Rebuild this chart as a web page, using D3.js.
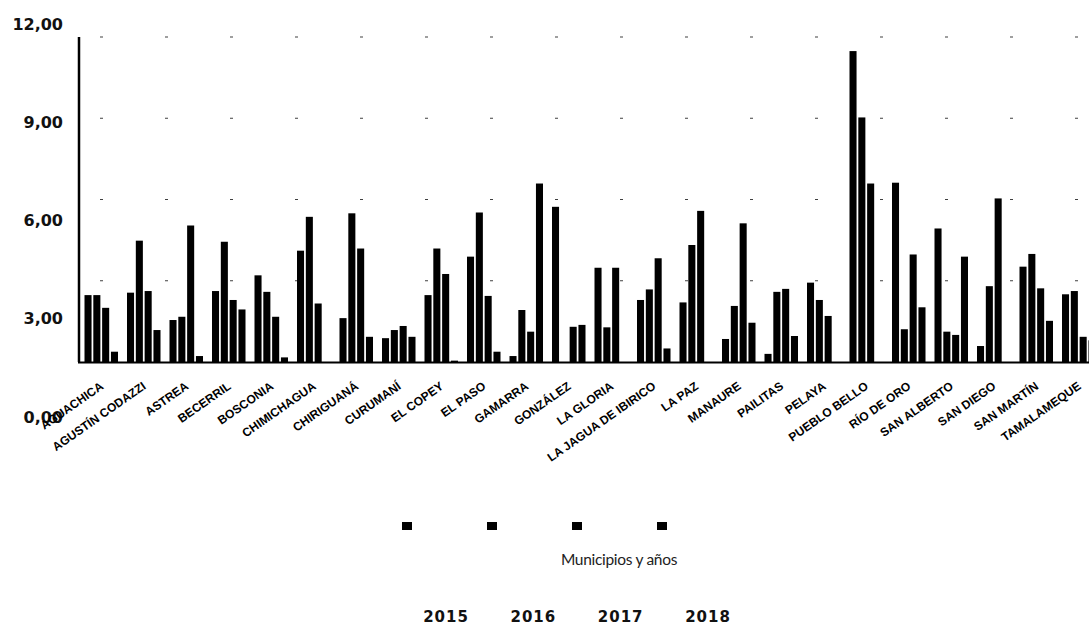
<!DOCTYPE html>
<html>
<head>
<meta charset="utf-8">
<script src="https://cdn.jsdelivr.net/npm/d3@7"></script>
<style>
  html, body { margin: 0; padding: 0; background: #fff; }
  svg { display: block; }
</style>
</head>
<body>
<svg id="chart" width="1089" height="626"></svg>
<script>
const categories = ["AGUACHICA","AGUSTÍN CODAZZI","ASTREA","BECERRIL","BOSCONIA","CHIMICHAGUA","CHIRIGUANÁ","CURUMANÍ","EL COPEY","EL PASO","GAMARRA","GONZÁLEZ","LA GLORIA","LA JAGUA DE IBIRICO","LA PAZ","MANAURE","PAILITAS","PELAYA","PUEBLO BELLO","RÍO DE ORO","SAN ALBERTO","SAN DIEGO","SAN MARTÍN","TAMALAMEQUE"];
const years = ["2015","2016","2017","2018"];
const v2015 = [2.47,2.56,1.55,2.62,3.20,4.11,1.62,0.88,2.47,3.89,0.22,5.73,3.48,2.29,2.20,0.85,0.30,2.93,11.48,6.62,4.93,0.59,3.52,2.50];
const v2016 = [2.47,4.48,1.67,4.44,2.59,5.36,5.49,1.18,4.19,5.52,1.92,0.00,1.28,2.68,4.32,2.07,2.59,2.29,9.03,1.21,1.12,2.80,3.99,2.62];
const v2017 = [2.00,2.62,5.04,2.29,1.67,2.16,4.19,1.33,3.25,2.44,1.12,1.30,3.48,3.83,5.58,5.12,2.70,1.70,6.59,3.97,1.00,6.04,2.72,0.93];
const v2018 = [0.38,1.18,0.22,1.94,0.17,0.00,0.93,0.93,0.05,0.38,6.59,1.37,0.00,0.50,0.00,1.45,0.96,0.00,0.00,2.02,3.89,0.00,1.52,0.80];
const yTicks = [0,3,6,9,12];
const axisTitle = "Municipios y años";

const series = [v2015, v2016, v2017, v2018];
const rows = categories.map((c, i) => ({ cat: c, vals: years.map((y, j) => ({ year: y, value: series[j][i] })) }));

const svg = d3.select("#chart");

const x0 = d3.scaleBand().domain(categories).range([79, 1099]).padding(0);
const x1 = d3.scaleBand().domain(years).range([5.5, 39]).paddingInner(0.2).paddingOuter(0);
const y = d3.scaleLinear().domain([0, 12]).range([362, 37]);
// tick labels in the scanned original sit on a slightly different spacing
const yLabel = d3.scaleLinear().domain([0, 12]).range([417, 24]);

// faint remnants of gridlines
svg.append("g").selectAll("line").data(yTicks.filter(d => d > 0)).join("line")
  .attr("x1", 100).attr("x2", 1089)
  .attr("y1", d => y(d)).attr("y2", d => y(d))
  .attr("stroke", "#000").attr("stroke-width", 1.2)
  .attr("stroke-dasharray", "3,62").attr("opacity", 0.75);

// bars
const g = svg.append("g");
g.selectAll("g.cat").data(rows).join("g")
  .attr("class", "cat")
  .attr("transform", d => `translate(${x0(d.cat)},0)`)
  .selectAll("rect").data(d => d.vals).join("rect")
  .attr("x", d => x1(d.year))
  .attr("width", x1.bandwidth())
  .attr("y", d => y(d.value))
  .attr("height", d => y(0) - y(d.value))
  .attr("fill", "#000");

// axis lines
svg.append("line").attr("x1", 79).attr("x2", 79).attr("y1", y(12)).attr("y2", y(0))
  .attr("stroke", "#000").attr("stroke-width", 2.5);
svg.append("line").attr("x1", 78).attr("x2", 1089).attr("y1", y(0) + 0.5).attr("y2", y(0) + 0.5)
  .attr("stroke", "#000").attr("stroke-width", 2.2);

// y tick labels
const yAxis = d3.axisLeft(yLabel).tickValues(yTicks).tickSize(0)
  .tickFormat(d => d3.format(".2f")(d).replace(".", ","));
const ya = svg.append("g").attr("transform", "translate(63,0)").call(yAxis);
ya.select(".domain").remove();
ya.selectAll("text").attr("x", 0)
  .attr("font-family", "DejaVu Sans").attr("font-weight", "bold").attr("font-size", 16)
  .attr("fill", "#111");

// x category labels
svg.append("g").selectAll("text").data(categories).join("text")
  .attr("transform", d => `translate(${x0(d) + x0.bandwidth() / 2 + 4},388) rotate(-35)`)
  .attr("text-anchor", "end")
  .attr("font-family", "Liberation Sans").attr("font-weight", "bold").attr("font-size", 12)
  .attr("fill", "#000")
  .text(d => d);

// legend swatches
const lx = d3.scalePoint().domain(years).range([407, 662]);
svg.append("g").selectAll("rect").data(years).join("rect")
  .attr("x", d => lx(d) - 5).attr("y", 522).attr("width", 10).attr("height", 8)
  .attr("fill", "#000");

// axis title
svg.append("text").attr("x", 619).attr("y", 565).attr("text-anchor", "middle")
  .attr("font-family", "Lato").attr("font-size", 15.5).attr("letter-spacing", -0.3).attr("fill", "#222")
  .text(axisTitle);

// year labels
const tx = d3.scalePoint().domain(years).range([446, 708]);
svg.append("g").selectAll("text").data(years).join("text")
  .attr("x", d => tx(d)).attr("y", 622).attr("text-anchor", "middle")
  .attr("font-family", "DejaVu Sans").attr("font-weight", "bold").attr("font-size", 15)
  .attr("letter-spacing", 1).attr("fill", "#111")
  .text(d => d);
</script>
</body>
</html>
